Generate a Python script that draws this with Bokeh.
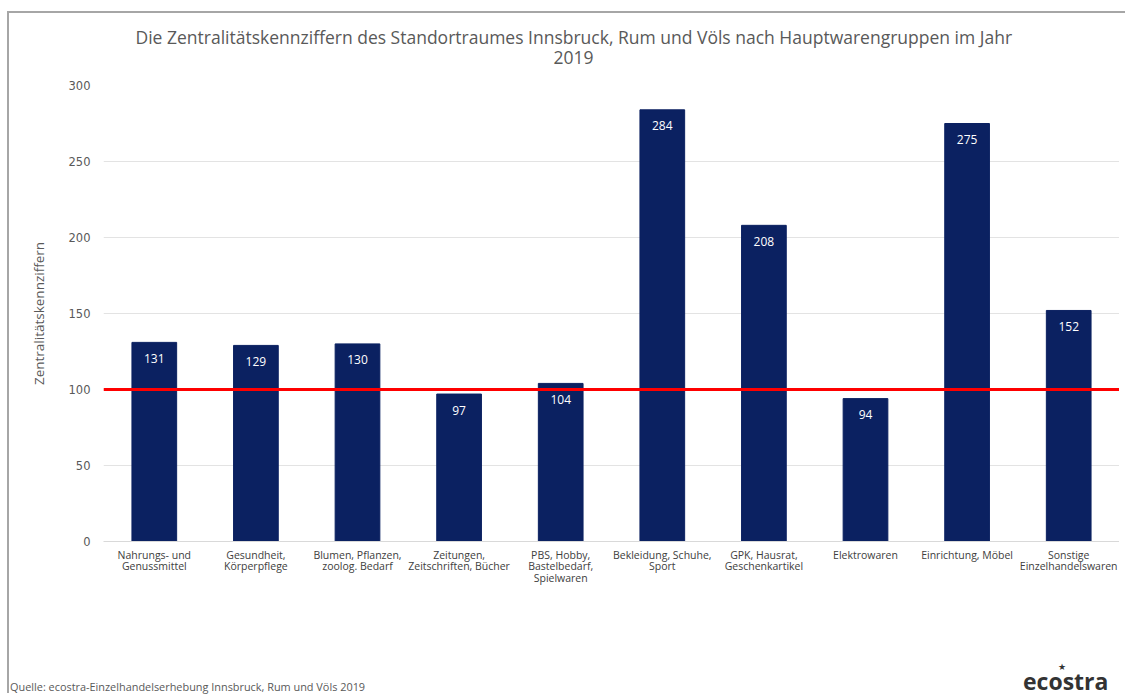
from bokeh.plotting import figure
from bokeh.models import Span, ColumnDataSource, FixedTicker, Title, Div
from bokeh.layouts import column
from bokeh.core.properties import value
from bokeh.embed import file_html
from bokeh.resources import INLINE

categories = [
    "Nahrungs- und\nGenussmittel",
    "Gesundheit,\nKörperpflege",
    "Blumen, Pflanzen,\nzoolog. Bedarf",
    "Zeitungen,\nZeitschriften, Bücher",
    "PBS, Hobby,\nBastelbedarf,\nSpielwaren",
    "Bekleidung, Schuhe,\nSport",
    "GPK, Hausrat,\nGeschenkartikel",
    "Elektrowaren",
    "Einrichtung, Möbel",
    "Sonstige\nEinzelhandelswaren",
]
values = [131, 129, 130, 97, 104, 284, 208, 94, 275, 152]
y_ticks = [0, 50, 100, 150, 200, 250, 300]
reference = 100

title_line1 = "Die Zentralitätskennziffern des Standortraumes Innsbruck, Rum und Völs nach Hauptwarengruppen im Jahr"
title_line2 = "2019"
source_text = "Quelle: ecostra-Einzelhandelserhebung Innsbruck, Rum und Völs 2019"
logo_text = "ecostra"
y_label = "Zentralitätskennziffern"

FONT = "Open Sans"
BAR = "#0b2161"
GREY = "#595959"

src = ColumnDataSource(dict(x=categories, top=values, txt=[str(v) for v in values]))

p = figure(x_range=categories, y_range=(0, 300), width=1110, height=640,
           output_backend="svg", toolbar_location=None,
           min_border_left=94, min_border_right=0, min_border_top=72, min_border_bottom=112)
p.outline_line_color = None

p.vbar(x="x", top="top", width=0.44, source=src, fill_color=BAR, line_color=BAR)
p.text(x="x", y="top", text="txt", source=src, text_color="white",
       text_font=value(FONT), text_font_size="12px", text_align="center",
       text_baseline="middle", y_offset=16)

p.add_layout(Span(location=reference, dimension="width", line_color="#ff0000", line_width=3))

p.xgrid.grid_line_color = None
p.ygrid.grid_line_color = "#e3e3e3"
p.yaxis.ticker = FixedTicker(ticks=y_ticks)
p.yaxis.axis_line_color = None
p.yaxis.major_tick_line_color = None
p.yaxis.minor_tick_line_color = None
p.yaxis.major_label_text_font = "DejaVu Sans"
p.yaxis.major_label_text_font_size = "11.5px"
p.yaxis.major_label_text_color = GREY
p.yaxis.major_label_standoff = 7
p.yaxis.axis_label = y_label
p.yaxis.axis_label_text_font = FONT
p.yaxis.axis_label_text_font_size = "13.5px"
p.yaxis.axis_label_text_font_style = "normal"
p.yaxis.axis_label_text_color = GREY
p.yaxis.axis_label_standoff = 18

p.xaxis.axis_line_color = "#d9d9d9"
p.xaxis.major_tick_line_color = None
p.xaxis.minor_tick_line_color = None
p.xaxis.major_label_text_font = FONT
p.xaxis.major_label_text_font_size = "10.5px"
p.xaxis.major_label_text_line_height = 0.85
p.xaxis.major_label_text_color = "#404040"
p.xaxis.major_label_standoff = 0

# blank spacer title between the frame and the two title lines
spacer = Title(text=" ", align="left", standoff=11, text_font_size="8px",
               text_line_height=1.0, text_color="white")
t2 = Title(text=title_line2, align="left", offset=450, vertical_align="bottom", standoff=0,
           text_font=FONT, text_font_size="17.5px", text_font_style="normal",
           text_color=GREY, text_line_height=0.8)
t1 = Title(text=title_line1, align="left", offset=32, vertical_align="bottom", standoff=0,
           text_font=FONT, text_font_size="17.5px", text_font_style="normal",
           text_color=GREY, text_line_height=0.8)
p.add_layout(spacer, "above")
p.add_layout(t2, "above")
p.add_layout(t1, "above")

footer_html = (
    '<div style="position:relative;width:1116px;height:40px;font-family:\'Open Sans\';">'
    '<span style="position:absolute;left:1px;top:28px;font-size:10.9px;line-height:12px;'
    'color:#595959;white-space:nowrap;">' + source_text + '</span>'
    '<span style="position:absolute;left:1014px;top:20px;font-size:23px;line-height:16px;'
    'font-weight:bold;color:#333333;white-space:nowrap;">' + logo_text + '</span>'
    '<span style="position:absolute;left:1049px;top:11px;font-size:9px;line-height:7px;'
    'font-family:\'DejaVu Sans\';color:#333333;">&#9733;</span>'
    '</div>'
)
footer = Div(text=footer_html, width=1116, height=40, margin=0)

layout = column(p, footer, spacing=0)
layout.styles = {"border-top": "2px solid #a6a6a6", "border-left": "2px solid #a6a6a6",
                 "margin-top": "11px", "margin-left": "7px"}

open("out.html", "w").write(file_html(layout, INLINE))
